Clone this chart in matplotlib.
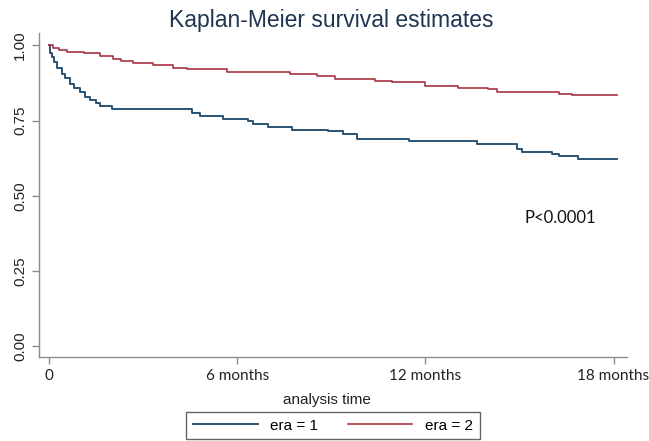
import matplotlib
matplotlib.use("Agg")
import matplotlib.pyplot as plt

# Kaplan-Meier step data (time in months, survival)
era1_time = [0, 0.03, 0.08, 0.15, 0.25, 0.39, 0.5, 0.66, 0.8, 0.98, 1.15, 1.3, 1.5,
             1.62, 1.99, 4.54, 4.81, 5.55, 6.34, 6.5, 6.98, 7.74, 8.9, 9.38, 9.81,
             11.46, 13.64, 14.92, 15.08, 16.03, 16.25, 16.88, 18.11]
era1_surv = [1.0, 0.975, 0.962, 0.945, 0.925, 0.905, 0.89, 0.872, 0.86, 0.845, 0.83,
             0.82, 0.81, 0.798, 0.787, 0.775, 0.765, 0.757, 0.748, 0.738, 0.73, 0.719,
             0.715, 0.705, 0.69, 0.681, 0.672, 0.655, 0.647, 0.64, 0.632, 0.623, 0.623]

era2_time = [0, 0.13, 0.3, 0.55, 1.09, 1.62, 2.04, 2.3, 2.68, 3.32, 3.96, 4.38, 5.66,
             7.68, 8.53, 9.12, 10.4, 10.93, 11.99, 13.05, 14.01, 14.28, 15.18, 16.25,
             16.67, 18.11]
era2_surv = [1.0, 0.992, 0.985, 0.979, 0.973, 0.964, 0.955, 0.948, 0.94, 0.935, 0.925,
             0.92, 0.912, 0.905, 0.898, 0.889, 0.882, 0.877, 0.866, 0.859, 0.854, 0.846,
             0.844, 0.837, 0.834, 0.834]

x_ticks = [0, 6, 12, 18]
x_labels = ["0", "6 months", "12 months", "18 months"]
y_ticks = [0, 0.25, 0.5, 0.75, 1.0]
y_labels = ["0.00", "0.25", "0.50", "0.75", "1.00"]

blue = "#2b5273"
red = "#a83340"
grey = "#8c8c8c"

fig = plt.figure(figsize=(6.49, 4.41), dpi=100)
ax = fig.add_axes([39 / 649, 84 / 441, 588 / 649, 324 / 441])

ax.step(era1_time, era1_surv, where="post", color=blue, lw=1.4, label="era = 1")
ax.step(era2_time, era2_surv, where="post", color=red, lw=1.2, label="era = 2")

ax.set_xlim(-0.33, 18.43)
ax.set_ylim(-0.035, 1.041)

for s in ["top", "right"]:
    ax.spines[s].set_visible(False)
for s in ["left", "bottom"]:
    ax.spines[s].set_color(grey)
    ax.spines[s].set_linewidth(1)

ax.set_xticks(x_ticks)
ax.set_xticklabels(x_labels, fontfamily="Lato", fontsize=11)
ax.set_yticks(y_ticks)
ax.set_yticklabels(y_labels, fontfamily="Liberation Sans", fontsize=11,
                   rotation=90, va="center")
ax.tick_params(axis="both", color=grey, length=5, width=1, colors="#222222")
ax.tick_params(axis="both", color=grey)

ax.set_xlabel("analysis time", fontfamily="Liberation Sans", fontsize=11,
              labelpad=0, color="#222222")
ax.xaxis.set_label_coords(0.49, -0.11)

fig.text(0.51, 0.953, "Kaplan-Meier survival estimates", ha="center", va="center",
         fontfamily="Liberation Sans", fontsize=16.5, color="#1f3552")

ax.text(560, 223, "P<0.0001", transform=None, fontsize=12, fontfamily="Lato",
        ha="center", va="center", color="#111111")

leg = fig.legend(loc="center", bbox_to_anchor=(333 / 649, 15.5 / 441), ncol=2,
                 fancybox=False, edgecolor="#666666",
                 prop={"family": "Liberation Sans", "size": 11},
                 handlelength=4.2, columnspacing=2.0, borderpad=0.45,
                 framealpha=1)
leg.get_frame().set_linewidth(1)

fig.savefig("out.png", dpi=100)
